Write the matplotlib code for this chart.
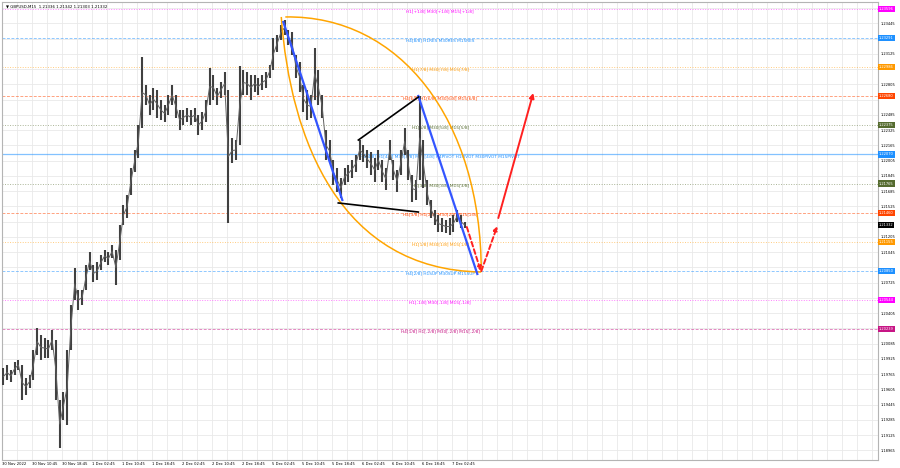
import numpy as np
import matplotlib
matplotlib.use('Agg')
import matplotlib.pyplot as plt
from matplotlib.path import Path
from matplotlib.patches import PathPatch

hour_high = [1.19830, 1.19861, 1.19809, 1.19893, 1.19914, 1.19861, 1.19725, 1.19756, 1.20019, 1.20249,
             1.20176, 1.20144, 1.20123, 1.20228, 1.20123, 1.19494, 1.19578, 1.20019, 1.20491, 1.20879,
             1.20648, 1.20648, 1.20910, 1.21047, 1.20910, 1.20942, 1.21015, 1.21068, 1.21047, 1.21120,
             1.21068, 1.21330, 1.21540, 1.21644, 1.21928, 1.22117, 1.22379, 1.23092, 1.22798, 1.22693,
             1.22767, 1.22746, 1.22641, 1.22589, 1.22693, 1.22798, 1.22693, 1.22536, 1.22536, 1.22557,
             1.22536, 1.22557, 1.22484, 1.22515, 1.22641, 1.22977, 1.22903, 1.22767, 1.22830, 1.22935,
             1.22746, 1.22242, 1.22221, 1.22998, 1.22956, 1.22935, 1.22903, 1.22903, 1.22872, 1.22903,
             1.22935, 1.23008, 1.23291, 1.23323, 1.23428, 1.23480, 1.23375, 1.23354, 1.23113, 1.23040,
             1.22798, 1.22746, 1.22693, 1.23187, 1.22956, 1.22693, 1.22326, 1.22221, 1.22012, 1.21928,
             1.21823, 1.21928, 1.21959, 1.22012, 1.22064, 1.22221, 1.22169, 1.22117, 1.22096, 1.22033,
             1.22117, 1.22012, 1.21928, 1.22221, 1.22012, 1.21907, 1.22117, 1.22347, 1.22117, 1.21854,
             1.21802, 1.22683, 1.22221, 1.21802, 1.21592, 1.21487, 1.21435, 1.21403, 1.21382, 1.21403,
             1.21435, 1.21487, 1.21435, 1.21361]
hour_low = [1.19651, 1.19704, 1.19683, 1.19756, 1.19809, 1.19494, 1.19546, 1.19620, 1.19704, 1.19966,
            1.19914, 1.19935, 1.19935, 1.20019, 1.19494, 1.18991, 1.19284, 1.19232, 1.20019, 1.20543,
            1.20438, 1.20491, 1.20648, 1.20858, 1.20732, 1.20753, 1.20858, 1.20942, 1.20910, 1.20984,
            1.20700, 1.20963, 1.21330, 1.21403, 1.21644, 1.21886, 1.22033, 1.22347, 1.22589, 1.22484,
            1.22536, 1.22452, 1.22431, 1.22410, 1.22484, 1.22589, 1.22452, 1.22326, 1.22379, 1.22410,
            1.22379, 1.22410, 1.22274, 1.22326, 1.22410, 1.22589, 1.22641, 1.22589, 1.22662, 1.22693,
            1.21351, 1.21980, 1.22012, 1.22169, 1.22693, 1.22693, 1.22641, 1.22725, 1.22693, 1.22746,
            1.22767, 1.22872, 1.22956, 1.23145, 1.23270, 1.23323, 1.23218, 1.23113, 1.22872, 1.22725,
            1.22515, 1.22431, 1.22452, 1.22641, 1.22589, 1.22452, 1.22012, 1.21991, 1.21749, 1.21676,
            1.21613, 1.21749, 1.21781, 1.21823, 1.21886, 1.22012, 1.21991, 1.21928, 1.21854, 1.21781,
            1.21907, 1.21781, 1.21697, 1.22012, 1.21802, 1.21676, 1.21854, 1.22064, 1.21802, 1.21571,
            1.21592, 1.21802, 1.21718, 1.21540, 1.21403, 1.21330, 1.21256, 1.21256, 1.21246, 1.21225,
            1.21256, 1.21361, 1.21298, 1.21298]

title_txt = "\u25bc GBPUSD,M15  1.21336 1.21342 1.21303 1.21332"
last_price = 1.21332

# Murrey math levels
level_prices = [1.23596, 1.23291, 1.22986, 1.22680, 1.22375, 1.22070,
                1.21765, 1.21460, 1.21155, 1.20850, 1.20544, 1.20239]
level_labels = ["H1[+1/8] M30[+1/8] M15[+1/8]",
                "H4[8/8] H1RES M30RES M15RES",
                "H1[7/8] M30[7/8] M15[7/8]",
                "H4[6/8] H1[6/8] M30[6/8] M15[6/8]",
                "H1[5/8] M30[5/8] M15[5/8]",
                "H4[4/8] H1[4/8] M30[4/8] M15[4/8] H4PIVOT H1PIVOT M30PIVOT M15PIVOT",
                "H1[3/8] M30[3/8] M15[3/8]",
                "H4[3/8] H1[2/8] M30[2/8] M15[2/8]",
                "H1[1/8] M30[1/8] M15[1/8]",
                "H4[2/8] H1SUP M30SUP M15SUP",
                "H1[-1/8] M30[-1/8] M15[-1/8]",
                "H4[1/8] H1[-2/8] M30[-2/8] M15[-2/8]"]
level_colors = ['#ff00ff', '#1e90ff', '#ff9900', '#ff4500', '#556b2f', '#1e90ff',
                '#556b2f', '#ff4500', '#ff9900', '#1e90ff', '#ff00ff', '#c71585']
level_styles = ['dot', 'dash', 'dot', 'dash', 'dot', 'solid',
                'dot', 'dash', 'dot', 'dash', 'dot', 'dash']

# time axis (M15 bar index)
xtick_bars = list(range(0, 481, 32))
xtick_labels = ["30 Nov 2022", "30 Nov 10:45", "30 Nov 18:45", "1 Dec 02:45", "1 Dec 10:45",
                "1 Dec 18:45", "2 Dec 02:45", "2 Dec 10:45", "2 Dec 18:45", "5 Dec 02:45",
                "5 Dec 10:45", "5 Dec 18:45", "6 Dec 02:45", "6 Dec 10:45", "6 Dec 18:45",
                "7 Dec 02:45"]
ytick_prices = [1.18965 + 0.0016 * i for i in range(30)]

# drawn objects (bar index, price)
blue_lines = [((300.1, 1.23459), (363.0, 1.21592)),
              ((444.1, 1.22683), (507.0, 1.20816))]
black_lines = [((380.1, 1.22221), (444.1, 1.22672)),
               ((358.7, 1.21561), (444.1, 1.21466))]
red_dashed = [((495.8, 1.21309), (510.7, 1.20847)),
              ((511.3, 1.20847), (528.3, 1.21319))]
red_solid = ((529.4, 1.21403), (566.7, 1.22714))
arc_left = [(297.9, 1.23512), (307.5, 1.22221), (360.9, 1.20858), (511.2, 1.20837)]
arc_right = [(302.2, 1.23512), (424.9, 1.23533), (511.2, 1.22431), (511.2, 1.20837)]

fig = plt.figure(figsize=(9, 4.68), dpi=100)
ax = fig.add_axes([2 / 900, 8 / 468, 876 / 900, 458 / 468])
ax.set_xlim(0, 934.4)
ax.set_ylim(1.18865, 1.23669)

# price labels that sit under a coloured box are hidden, as in the terminal
box_prices = level_prices + [last_price]
ytick_text = []
for p in ytick_prices:
    if min(abs(p - b) for b in box_prices) < 0.00045:
        ytick_text.append("")
    else:
        ytick_text.append("%.5f" % p)

# grid
ax.set_xticks(np.arange(0, 935, 16), minor=True)
ax.set_xticks(xtick_bars)
ax.set_xticklabels(xtick_labels, fontsize=2.7, ha='left')
ax.set_yticks(ytick_prices)
ax.set_yticklabels(ytick_text, fontsize=2.6)
ax.yaxis.tick_right()
ax.tick_params(axis='both', which='both', length=0)
ax.tick_params(axis='y', pad=2.2)
ax.tick_params(axis='x', pad=1.5)
ax.grid(True, which='both', color='#e9e9e9', lw=0.6)
ax.set_axisbelow(True)
for s in ax.spines.values():
    s.set_color('#b4b4b4')
    s.set_linewidth(0.8)

# levels
dash_map = {'dot': (1.0, 1.6), 'dash': (3.0, 1.6)}
for p, lab, c, st in zip(level_prices, level_labels, level_colors, level_styles):
    if st == 'solid':
        ax.axhline(p, color=c, lw=0.9, alpha=0.55, zorder=1)
    else:
        ax.axhline(p, color=c, lw=0.7, alpha=0.5, dashes=dash_map[st], zorder=1)
    ax.annotate(lab, (467.5, p), xytext=(0, -1.6), textcoords='offset points',
                ha='center', va='center', fontsize=3.1, color=c, zorder=2)
    ax.text(1.0008, p, "%.5f" % p, transform=ax.get_yaxis_transform(), fontsize=2.6,
            color='white', va='center', ha='left', clip_on=False, zorder=6,
            bbox=dict(boxstyle='square,pad=0.3', fc=c, ec='none'))
ax.text(1.0008, last_price, "%.5f" % last_price, transform=ax.get_yaxis_transform(),
        fontsize=2.6, color='white', va='center', ha='left', clip_on=False, zorder=7,
        bbox=dict(boxstyle='square,pad=0.3', fc='black', ec='none'))

# price bars, joined by a thin line so the series reads as one trace
bar_x = np.arange(len(hour_high)) * 4 + 1.5
bar_mid = (np.array(hour_high) + np.array(hour_low)) / 2
ax.vlines(bar_x, hour_low, hour_high, color='#404040', lw=1.5, zorder=3)
ax.plot(bar_x, bar_mid, color='#606060', lw=0.7, zorder=3)

# orange arcs
for pts in [arc_left, arc_right]:
    codes = [Path.MOVETO, Path.CURVE4, Path.CURVE4, Path.CURVE4]
    ax.add_patch(PathPatch(Path(pts, codes), fc='none', ec='#ffa500', lw=1.1, zorder=4))

for (a, b) in blue_lines:
    ax.plot([a[0], b[0]], [a[1], b[1]], color='#3355ff', lw=1.6, zorder=5)
for (a, b) in black_lines:
    ax.plot([a[0], b[0]], [a[1], b[1]], color='black', lw=1.2, zorder=5)
for (a, b) in red_dashed:
    ax.annotate('', xy=b, xytext=a,
                arrowprops=dict(arrowstyle='-|>', color='#ff2020', lw=1.4, linestyle=(0, (2.5, 1.5)),
                                mutation_scale=6, shrinkA=0, shrinkB=0), zorder=5)
ax.annotate('', xy=red_solid[1], xytext=red_solid[0],
            arrowprops=dict(arrowstyle='-|>', color='#ff2020', lw=1.4,
                            mutation_scale=7, shrinkA=0, shrinkB=0), zorder=5)

ax.text(0.004, 0.994, title_txt, transform=ax.transAxes, va='top', ha='left', fontsize=2.8)

fig.savefig('out.png', dpi=100)
